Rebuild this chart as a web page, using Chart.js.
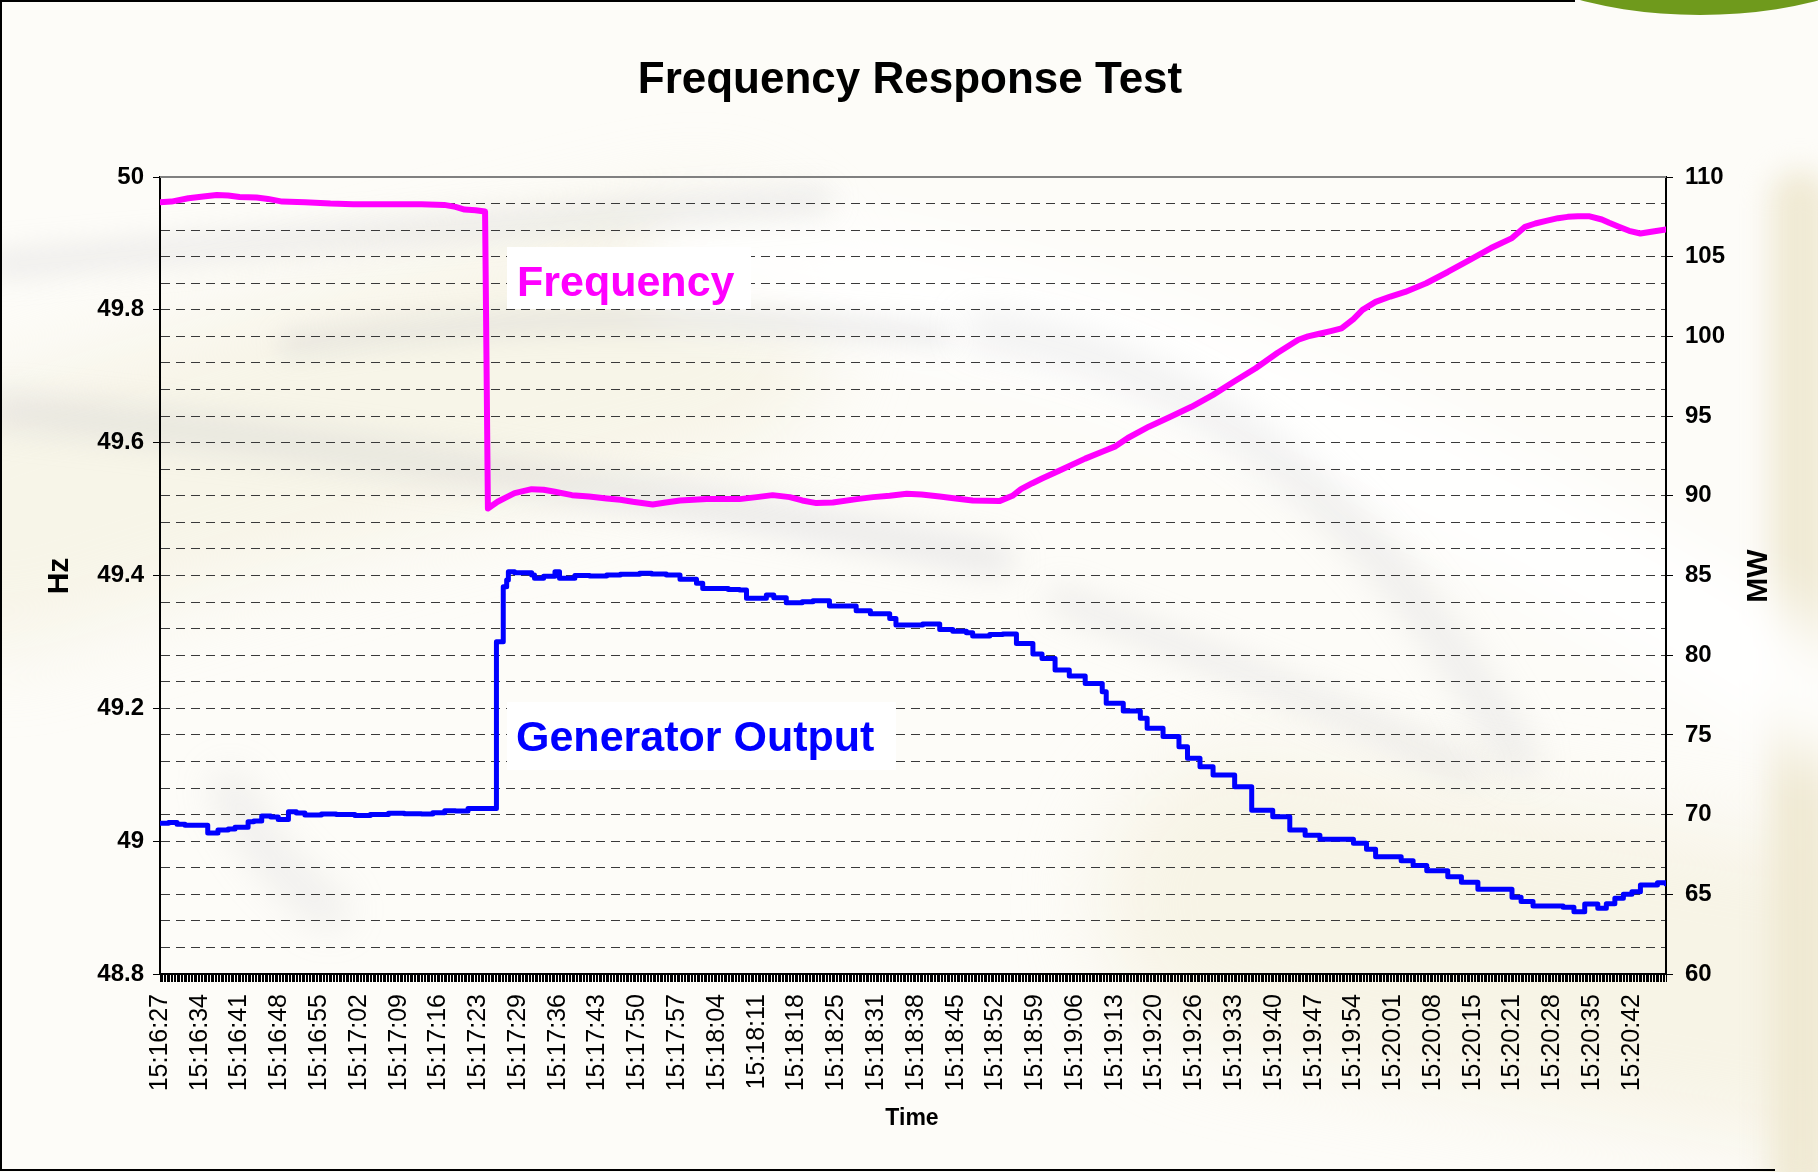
<!DOCTYPE html>
<html>
<head>
<meta charset="utf-8">
<title>Frequency Response Test</title>
<script src="https://cdn.jsdelivr.net/npm/chart.js@4.4.1/dist/chart.umd.min.js"></script>
<style>
  html, body { margin: 0; padding: 0; background: #fff; }
  canvas { display: block; }
</style>
</head>
<body>
<canvas id="freqChart" width="1818" height="1172"></canvas>
<script>
// Frequency Response Test - Chart.js version

// x values are sample numbers, a time label every 7 samples
const timeLabels = ['15:16:27', '15:16:34', '15:16:41', '15:16:48', '15:16:55', '15:17:02', '15:17:09',
  '15:17:16', '15:17:23', '15:17:29', '15:17:36', '15:17:43', '15:17:50', '15:17:57', '15:18:04',
  '15:18:11', '15:18:18', '15:18:25', '15:18:31', '15:18:38', '15:18:45', '15:18:52', '15:18:59',
  '15:19:06', '15:19:13', '15:19:20', '15:19:26', '15:19:33', '15:19:40', '15:19:47', '15:19:54',
  '15:20:01', '15:20:08', '15:20:15', '15:20:21', '15:20:28', '15:20:35', '15:20:42'];
const labelEvery = 7;
const lastSample = 265;

// Frequency (Hz)
const freqT = [0, 2, 5, 8, 10, 12, 14, 17, 19, 21.5, 25.5, 30, 34, 40, 46, 50, 52, 53.6, 55.5, 57.2,
  57.7, 59.4, 61, 62.4, 65.4, 67.5, 69.5, 72.5, 75.5, 78.6, 81, 83.2, 86.7, 89, 91.5, 96.2, 102, 105,
  107.8, 110.8, 113, 115.5, 118.4, 122.6, 125.5, 128.4, 131.4, 134, 137.2, 140, 143, 147.7, 150, 151.5,
  153.5, 155.2, 158.3, 162.8, 166, 168, 170.3, 174, 177.8, 181.5, 185.3, 189, 192.8, 196.6, 200.3, 202,
  204, 206, 207.9, 210, 211.6, 213.9, 216.5, 219.1, 222.8, 226.6, 230.4, 234.2, 237.9, 240.2, 242,
  243.9, 246, 247.7, 249.5, 251.4, 253.7, 255, 256.7, 258.5, 260.5, 262.7, 265];
const freqHz = [49.962, 49.963, 49.968, 49.971, 49.973, 49.972, 49.970, 49.969, 49.967, 49.963, 49.962,
  49.960, 49.959, 49.959, 49.959, 49.958, 49.955, 49.951, 49.950, 49.948,
  49.501, 49.511, 49.518, 49.524, 49.530, 49.529, 49.526, 49.521, 49.519, 49.516, 49.514, 49.511,
  49.507, 49.510, 49.513, 49.515, 49.515, 49.518, 49.521, 49.518, 49.513, 49.509, 49.510, 49.515,
  49.518, 49.520, 49.523, 49.522, 49.519, 49.516, 49.513, 49.512, 49.520, 49.530, 49.539, 49.546,
  49.558, 49.576, 49.587, 49.594, 49.607, 49.624, 49.639, 49.654, 49.672, 49.692, 49.712, 49.735,
  49.755, 49.760, 49.764, 49.768, 49.772, 49.786, 49.800, 49.812, 49.820, 49.827, 49.840, 49.857,
  49.875, 49.893, 49.908, 49.925, 49.930, 49.934, 49.938, 49.940, 49.941, 49.941, 49.936, 49.931,
  49.925, 49.919, 49.915, 49.918, 49.921];

// Generator output (MW), each value holds until the next sample
const genT = [0, 1.5, 3, 4.4, 7.3, 8.4, 9.5, 10.2, 12, 13.2, 15.5, 16.5, 17.9, 19.5, 20.8, 22.6, 24,
  25.5, 28.4, 31, 34.3, 37, 40.2, 43, 46, 48, 50.1, 52, 54.2, 59.2, 60.4, 61, 61.3, 62.4, 65.4, 65.9,
  67.5, 69.5, 70.3, 73, 75.6, 78.6, 81, 84.4, 86.5, 89.1, 91.5, 94.4, 95.5, 100, 102, 103.2, 106.7,
  108, 110.2, 113, 114.9, 117.8, 122.5, 125, 128.4, 129.5, 134.2, 137.2, 139.5, 141.9, 143, 146,
  148.3, 150.7, 153.6, 155.2, 157.5, 160, 162.8, 165.8, 166.5, 169.5, 172.5, 173.7, 176.5, 179.3,
  180.8, 183, 185.3, 189.1, 192.1, 195.8, 198.8, 201.5, 204.1, 207.9, 210, 212.3, 213.9, 218.4,
  220.5, 222.9, 226.6, 229, 231.9, 234.9, 237.9, 239.5, 241.6, 246.9, 248.8, 250.7, 253, 254.5, 256,
  257.5, 259, 260.5, 263.5, 265];
const genMW = [69.45, 69.50, 69.40, 69.33, 69.33, 68.85, 68.85, 69.03, 69.10, 69.20, 69.55, 69.60,
  69.91, 69.85, 69.70, 70.18, 70.10, 69.97, 70.03, 70.00, 69.95, 70.00, 70.08, 70.05, 70.03, 70.12,
  70.24, 70.22, 70.39, 80.84, 84.29, 84.72, 85.24, 85.17, 85.03, 84.82, 84.95, 85.24, 84.82, 85.00,
  84.97, 85.03, 85.08, 85.14, 85.10, 85.03, 84.76, 84.51, 84.19, 84.12, 84.09, 83.57, 83.77, 83.60,
  83.29, 83.35, 83.42, 83.08, 82.79, 82.60, 82.31, 81.89, 81.95, 81.62, 81.50, 81.41, 81.20, 81.30,
  81.33, 80.74, 80.07, 79.80, 79.07, 78.70, 78.23, 77.71, 76.98, 76.50, 76.04, 75.41, 74.90, 74.26,
  73.53, 73.00, 72.48, 71.75, 70.28, 69.86, 69.03, 68.70, 68.45, 68.45, 68.20, 67.82, 67.36, 67.11,
  66.80, 66.48, 66.10, 65.75, 65.31, 65.31, 64.81, 64.55, 64.27, 64.18, 63.91, 64.39, 64.12, 64.40,
  64.75, 65.00, 65.16, 65.58, 65.73, 65.65];

// Axis ticks
const hzLabels = [48.8, 49, 49.2, 49.4, 49.6, 49.8, 50];
const hzGridStep = 0.04;
const mwTicks = [60, 65, 70, 75, 80, 85, 90, 95, 100, 105, 110];

const FONT = '"Liberation Sans", Arial, Helvetica, sans-serif';
const isHzLabel = v => hzLabels.some(m => Math.abs(m - v) < 1e-6);

// slide background, frame, titles and the two text boxes
const decorations = {
  id: 'decorations',
  beforeDraw(chart) {
    const ctx = chart.ctx;
    const W = chart.width, H = chart.height;
    ctx.save();
    ctx.fillStyle = '#fdfcf8';
    ctx.fillRect(0, 0, W, H);

    const swoosh = (x0, y0, cx, cy, x1, y1, w, color, blur) => {
      ctx.save();
      ctx.filter = 'blur(' + blur + 'px)';
      ctx.strokeStyle = color;
      ctx.lineWidth = w;
      ctx.lineCap = 'round';
      ctx.beginPath();
      ctx.moveTo(x0, y0);
      ctx.quadraticCurveTo(cx, cy, x1, y1);
      ctx.stroke();
      ctx.restore();
    };
    // cream washes
    swoosh(0, 520, 300, 420, 700, 330, 260, 'rgba(243, 238, 218, 0.55)', 40);
    swoosh(1250, 900, 1500, 950, 1818, 1000, 300, 'rgba(243, 238, 218, 0.6)', 40);
    swoosh(1800, 200, 1800, 700, 1800, 1172, 60, 'rgba(238, 232, 208, 0.9)', 14);
    // white bands
    swoosh(700, 260, 1200, 300, 1818, 700, 120, 'rgba(255,255,255,0.9)', 30);
    // grey swooshes
    swoosh(0, 265, 330, 235, 820, 200, 26, 'rgba(190,190,195,0.25)', 14);
    swoosh(290, 345, 600, 300, 940, 335, 22, 'rgba(190,190,195,0.28)', 12);
    swoosh(0, 410, 500, 460, 1000, 560, 30, 'rgba(190,190,195,0.3)', 16);
    swoosh(980, 330, 1300, 370, 1520, 760, 34, 'rgba(190,190,195,0.25)', 18);
    swoosh(1060, 600, 1300, 690, 1470, 770, 26, 'rgba(190,190,195,0.25)', 16);
    swoosh(230, 790, 270, 870, 330, 910, 40, 'rgba(190,190,195,0.2)', 18);

    // green corner shape
    ctx.fillStyle = '#6f9a1c';
    ctx.beginPath();
    ctx.ellipse(1700, -60, 200, 75, 0, 0, Math.PI * 2);
    ctx.fill();

    // frame
    ctx.strokeStyle = '#000';
    ctx.lineWidth = 2;
    ctx.beginPath();
    ctx.moveTo(1, H - 2);
    ctx.lineTo(1, 1);
    ctx.lineTo(1575, 1);
    ctx.moveTo(0, H - 2);
    ctx.lineTo(1775, H - 2);
    ctx.stroke();
    ctx.restore();
  },
  beforeDatasetsDraw(chart) {
    const ctx = chart.ctx;
    const area = chart.chartArea;
    ctx.save();
    // solid grey line along the top of the plot
    ctx.strokeStyle = '#808080';
    ctx.lineWidth = 2;
    ctx.beginPath();
    ctx.moveTo(area.left, area.top);
    ctx.lineTo(area.right, area.top);
    ctx.stroke();

    // text boxes
    ctx.fillStyle = '#ffffff';
    ctx.fillRect(507, 247, 244, 62);
    ctx.fillRect(507, 702, 389, 68);
    ctx.font = 'bold 43px ' + FONT;
    ctx.textBaseline = 'alphabetic';
    ctx.textAlign = 'left';
    ctx.fillStyle = '#ff00ff';
    ctx.fillText('Frequency', 517, 296);
    ctx.fillStyle = '#0000ff';
    ctx.fillText('Generator Output', 516, 751);
    ctx.restore();
  },
  afterDraw(chart) {
    const ctx = chart.ctx;
    ctx.save();
    ctx.fillStyle = '#000';
    ctx.textAlign = 'center';
    ctx.textBaseline = 'alphabetic';
    ctx.font = 'bold 44px ' + FONT;
    ctx.fillText('Frequency Response Test', 910, 93);

    ctx.font = 'bold 23px ' + FONT;
    ctx.textBaseline = 'middle';
    ctx.fillText('Time', 912, 1119);

    // both vertical titles read bottom to top
    ctx.font = 'bold 30px ' + FONT;
    ctx.translate(60, 576);
    ctx.rotate(-Math.PI / 2);
    ctx.fillText('Hz', 0, 0);
    ctx.rotate(Math.PI / 2);
    ctx.translate(1759 - 60, 0);
    ctx.rotate(-Math.PI / 2);
    ctx.fillText('MW', 0, 0);
    ctx.restore();
  }
};

new Chart(document.getElementById('freqChart'), {
  type: 'line',
  data: {
    datasets: [{
      label: 'Frequency',
      data: freqT.map((t, i) => ({ x: t, y: freqHz[i] })),
      yAxisID: 'y',
      borderColor: '#ff00ff',
      borderWidth: 6,
      borderJoinStyle: 'round',
      borderCapStyle: 'round',
      pointRadius: 0,
      tension: 0
    }, {
      label: 'Generator Output',
      data: genT.map((t, i) => ({ x: t, y: genMW[i] })),
      yAxisID: 'y2',
      borderColor: '#0000ff',
      borderWidth: 5,
      borderJoinStyle: 'round',
      borderCapStyle: 'round',
      stepped: 'before',
      pointRadius: 0
    }]
  },
  options: {
    responsive: false,
    devicePixelRatio: 1,
    animation: false,
    layout: { padding: { top: 177, left: 0, right: 0, bottom: 0 } },
    plugins: {
      legend: { display: false },
      tooltip: { enabled: false }
    },
    scales: {
      x: {
        type: 'linear',
        min: 0,
        max: lastSample,
        afterBuildTicks: axis => {
          // dense tick marks, 4 per sample
          const ticks = [];
          for (let i = 0; i * 0.25 <= lastSample + 1e-9; i++) ticks.push({ value: i * 0.25 });
          axis.ticks = ticks;
        },
        ticks: {
          autoSkip: false,
          minRotation: 90,
          maxRotation: 90,
          padding: 12,
          color: '#000',
          font: { family: FONT, size: 25 },
          callback: (v, i) => (i % (labelEvery * 4) === 0 ? (timeLabels[i / (labelEvery * 4)] || '') : '')
        },
        grid: { drawOnChartArea: false, tickLength: 8, tickColor: '#000', tickWidth: 1 },
        border: { color: '#000', width: 2 },
        afterFit: s => { s.height = 198; }
      },
      y: {
        position: 'left',
        min: 48.8,
        max: 50,
        afterBuildTicks: axis => {
          const ticks = [];
          for (let k = 0; k <= 30; k++) ticks.push({ value: +(48.8 + k * hzGridStep).toFixed(2) });
          axis.ticks = ticks;
        },
        ticks: {
          autoSkip: false,
          padding: 9,
          color: '#000',
          font: { family: FONT, size: 24, weight: 'bold' },
          callback: v => (isHzLabel(v) ? String(+v.toFixed(1)) : '')
        },
        grid: {
          color: c => (c.index === 0 || c.index === 30) ? 'rgba(0,0,0,0)' : '#3a3a3a',
          lineWidth: 1,
          tickLength: 7,
          tickWidth: 1,
          tickColor: c => (c.tick && isHzLabel(c.tick.value)) ? '#000' : 'rgba(0,0,0,0)'
        },
        border: { color: '#000', width: 2, dash: [9, 6] },
        afterFit: s => { s.width = 160; }
      },
      y2: {
        position: 'right',
        min: 60,
        max: 110,
        afterBuildTicks: axis => { axis.ticks = mwTicks.map(v => ({ value: v })); },
        ticks: {
          autoSkip: false,
          padding: 12,
          color: '#000',
          font: { family: FONT, size: 24, weight: 'bold' }
        },
        grid: { drawOnChartArea: false, tickLength: 7, tickWidth: 1, tickColor: '#000' },
        border: { color: '#000', width: 2 },
        afterFit: s => { s.width = 152; }
      }
    }
  },
  plugins: [decorations]
});
</script>
</body>
</html>
